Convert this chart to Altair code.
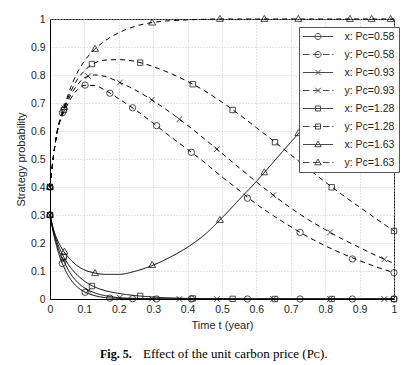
import altair as alt
import pandas as pd

# ---------------- data ----------------
T = [0, 0.01, 0.02, 0.03, 0.04, 0.06, 0.08, 0.1, 0.13, 0.16, 0.2, 0.25, 0.3, 0.35,
     0.4, 0.45, 0.5, 0.55, 0.6, 0.65, 0.7, 0.75, 0.8, 0.85, 0.9, 0.95, 1.0]
PC = ["0.58", "0.93", "1.28", "1.63"]

x_058 = [0.3, 0.235, 0.185, 0.145, 0.115, 0.07, 0.042, 0.026, 0.012, 0.005, 0.002, 0.0005,
         0, 0, 0, 0, 0, 0, 0, 0, 0, 0, 0, 0, 0, 0, 0]
x_093 = [0.3, 0.24, 0.195, 0.16, 0.135, 0.09, 0.06, 0.04, 0.022, 0.012, 0.005, 0.002, 0.001,
         0, 0, 0, 0, 0, 0, 0, 0, 0, 0, 0, 0, 0, 0]
x_128 = [0.3, 0.245, 0.205, 0.175, 0.15, 0.112, 0.085, 0.064, 0.043, 0.03, 0.02, 0.012, 0.007,
         0.004, 0.002, 0.001, 0.0005, 0, 0, 0, 0, 0, 0, 0, 0, 0, 0]
x_163 = [0.3, 0.25, 0.215, 0.19, 0.17, 0.14, 0.118, 0.104, 0.093, 0.088, 0.088, 0.1, 0.121,
         0.15, 0.185, 0.23, 0.29, 0.355, 0.42, 0.49, 0.56, 0.63, 0.695, 0.753, 0.803, 0.845, 0.879]

y_058 = [0.4, 0.51, 0.59, 0.638, 0.666, 0.715, 0.748, 0.763, 0.762, 0.746, 0.715, 0.674, 0.628,
         0.58, 0.534, 0.487, 0.436, 0.388, 0.339, 0.297, 0.258, 0.222, 0.19, 0.162, 0.137, 0.114, 0.094]
y_093 = [0.4, 0.51, 0.59, 0.641, 0.674, 0.728, 0.765, 0.79, 0.8, 0.795, 0.775, 0.745, 0.708,
         0.666, 0.62, 0.571, 0.52, 0.469, 0.418, 0.37, 0.325, 0.284, 0.248, 0.214, 0.184, 0.154, 0.127]
y_128 = [0.4, 0.51, 0.592, 0.644, 0.678, 0.74, 0.785, 0.815, 0.843, 0.853, 0.855, 0.848, 0.83,
         0.806, 0.777, 0.743, 0.703, 0.659, 0.612, 0.564, 0.515, 0.466, 0.418, 0.372, 0.328, 0.285, 0.243]
y_163 = [0.4, 0.51, 0.594, 0.647, 0.683, 0.755, 0.81, 0.85, 0.892, 0.922, 0.951, 0.975, 0.988,
         0.994, 0.997, 0.999, 1, 1, 1, 1, 1, 1, 1, 1, 1, 1, 1]

# marker positions (solver steps) per P_C
mt_058 = [0, 0.036, 0.102, 0.174, 0.24, 0.31, 0.411, 0.574, 0.727, 0.879, 1.0]
mx_058 = [0.3, 0.127, 0.024, 0.003, 0.001, 0, 0, 0, 0, 0, 0]
my_058 = [0.4, 0.665, 0.764, 0.735, 0.683, 0.619, 0.524, 0.36, 0.238, 0.143, 0.094]

mt_093 = [0, 0.042, 0.111, 0.203, 0.296, 0.376, 0.485, 0.649, 0.814, 0.972]
mx_093 = [0.3, 0.14, 0.03, 0.005, 0.001, 0, 0, 0, 0, 0]
my_093 = [0.4, 0.681, 0.796, 0.773, 0.711, 0.642, 0.535, 0.371, 0.238, 0.142]

mt_128 = [0, 0.04, 0.122, 0.262, 0.415, 0.531, 0.654, 0.819, 1.0]
mx_128 = [0.3, 0.15, 0.046, 0.011, 0.002, 0.0005, 0, 0, 0]
my_128 = [0.4, 0.675, 0.839, 0.844, 0.767, 0.675, 0.56, 0.399, 0.243]

mt_163 = [0, 0.042, 0.131, 0.297, 0.494, 0.623, 0.722, 0.872, 0.935, 0.99]
mx_163 = [0.3, 0.169, 0.092, 0.121, 0.282, 0.452, 0.592, 0.77, 0.835, 0.875]
my_163 = [0.4, 0.685, 0.893, 0.987, 1, 1, 1, 1, 1, 1]

TICKS = [0, 0.1, 0.2, 0.3, 0.4, 0.5, 0.6, 0.7, 0.8, 0.9, 1]

SUB = "P\u1d04"
LABELS = []
for p in PC:
    LABELS += [f"x: {SUB}={p}", f"y: {SUB}={p}"]

# ---------------- build tables ----------------
curves = {("x", "0.58"): x_058, ("x", "0.93"): x_093, ("x", "1.28"): x_128, ("x", "1.63"): x_163,
          ("y", "0.58"): y_058, ("y", "0.93"): y_093, ("y", "1.28"): y_128, ("y", "1.63"): y_163}
rows = []
for (var, pc), vals in curves.items():
    for t, v in zip(T, vals):
        rows.append({"t": t, "v": v, "var": var, "pc": pc, "series": f"{var}: {SUB}={pc}"})
lines_df = pd.DataFrame(rows)

marks = {"0.58": (mt_058, mx_058, my_058), "0.93": (mt_093, mx_093, my_093),
         "1.28": (mt_128, mx_128, my_128), "1.63": (mt_163, mx_163, my_163)}
mrows = []
for pc, (ts, xs_, ys_) in marks.items():
    for t, xv, yv in zip(ts, xs_, ys_):
        mrows.append({"t": t, "v": xv, "pc": pc})
        mrows.append({"t": t, "v": yv, "pc": pc})
marks_df = pd.DataFrame(mrows)

legend_df = pd.DataFrame({"series": LABELS, "t": [-1.0] * 8, "v": [0.5] * 8})

# ---------------- shapes ----------------
MARK_SHAPES = ["circle",
               "M-0.9,-0.9L0.9,0.9M-0.9,0.9L0.9,-0.9",
               "M-0.85,-0.85H0.85V0.85H-0.85Z",
               "M0,-1.15L1.1,0.75L-1.1,0.75Z"]
LEG_MARK = ["M0.6,0A0.6,0.6 0 1,1 -0.6,0A0.6,0.6 0 1,1 0.6,0Z",
            "M-0.55,-0.55L0.55,0.55M-0.55,0.55L0.55,-0.55",
            "M-0.5,-0.5H0.5V0.5H-0.5Z",
            "M0,-0.7L0.65,0.45L-0.65,0.45Z"]
SOLID = "M-3,0H3"
DASHED = "M-3,0H-1.7M-1,0H0.3M1,0H2.3M2.85,0H3.1"
LEG_SHAPES = []
for m in LEG_MARK:
    LEG_SHAPES += [SOLID + m, DASHED + m]

xs = alt.Scale(domain=[0, 1], nice=False, zero=False)
ys = alt.Scale(domain=[0, 1], nice=False, zero=False)


def xaxis():
    return alt.Axis(values=TICKS, format="~g", title="Time t (year)", labelOverlap=False,
                    labelFlush=False, labelBound=False)


def yaxis():
    return alt.Axis(values=TICKS, format="~g", title="Strategy probability", labelOverlap=False,
                    labelFlush=False, labelBound=False)


lines = alt.Chart(lines_df).mark_line(color="black", strokeWidth=1, interpolate="monotone").encode(
    x=alt.X("t:Q", scale=xs, axis=xaxis()),
    y=alt.Y("v:Q", scale=ys, axis=yaxis()),
    detail="series:N",
    strokeDash=alt.StrokeDash("var:N", scale=alt.Scale(domain=["x", "y"], range=[[1, 0], [5, 4]]),
                              legend=None),
)

points = alt.Chart(marks_df).mark_point(filled=False, color="black", strokeWidth=1, size=40).encode(
    x=alt.X("t:Q", scale=xs, axis=xaxis()),
    y=alt.Y("v:Q", scale=ys, axis=yaxis()),
    shape=alt.Shape("pc:N", scale=alt.Scale(domain=PC, range=MARK_SHAPES), legend=None),
)

legend_layer = alt.Chart(legend_df).mark_point(filled=False, color="black", strokeWidth=1,
                                               size=100, clip=True).encode(
    x=alt.X("t:Q", scale=xs, axis=xaxis()),
    y=alt.Y("v:Q", scale=ys, axis=yaxis()),
    shape=alt.Shape("series:N", scale=alt.Scale(domain=LABELS, range=LEG_SHAPES),
                    legend=alt.Legend(title=None, orient="none", legendX=249, legendY=8,
                                      fillColor="white", strokeColor="#555555", padding=4,
                                      symbolSize=100, symbolStrokeWidth=1,
                                      symbolStrokeColor="black", symbolOffset=9.5,
                                      labelOffset=21, labelFont="Liberation Sans",
                                      labelFontSize=10.5, labelColor="#262626",
                                      rowPadding=7, cornerRadius=0)),
)

cap1 = alt.Chart(pd.DataFrame({"txt": ["Fig. 5."]})).mark_text(
    align="left", baseline="middle", font="Liberation Serif", fontSize=12, fontWeight="bold",
    color="black").encode(x=alt.value(50), y=alt.value(335), text="txt:N")
cap2 = alt.Chart(pd.DataFrame({"txt": [f"Effect of the unit carbon price ({SUB})."]})).mark_text(
    align="left", baseline="middle", font="Liberation Serif", fontSize=13,
    color="black").encode(x=alt.value(93), y=alt.value(335), text="txt:N")

chart = alt.layer(lines, points, legend_layer, cap1, cap2).resolve_scale(
    shape="independent"
).properties(
    width=344, height=280,
    autosize=alt.AutoSizeParams(type="none"),
    padding={"left": 42, "top": 11, "right": 12, "bottom": 64},
    background="white",
).configure_view(stroke="black", strokeWidth=1).configure_axis(
    domainColor="black", ticks=False, labelFont="Liberation Sans", labelFontSize=10.5,
    labelColor="#262626", titleFont="Liberation Sans", titleFontSize=11,
    titleFontWeight="normal", titleColor="#262626", gridColor="#c8c8c8", gridDash=[1, 2],
    gridWidth=1, labelOverlap=False,
).configure_axisX(labelPadding=5, titlePadding=5).configure_axisY(labelPadding=5, titlePadding=4)

chart.save("out.html", embed_options={"renderer": "svg", "actions": False})
